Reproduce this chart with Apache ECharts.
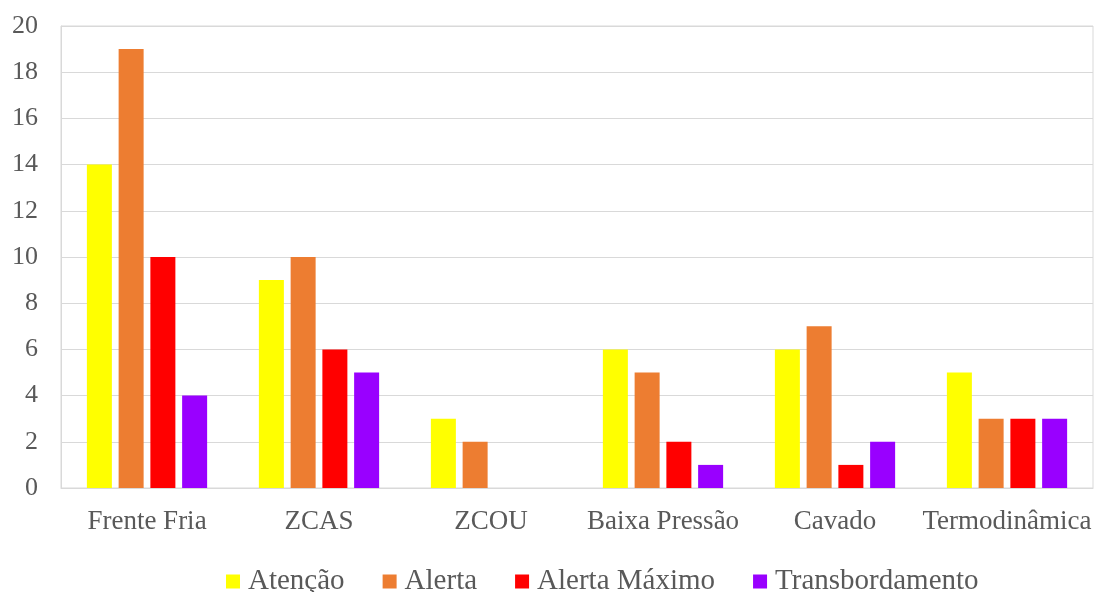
<!DOCTYPE html>
<html>
<head>
<meta charset="utf-8">
<script src="https://cdn.jsdelivr.net/npm/echarts@6/dist/echarts.min.js"></script>
<style>
  html, body { margin: 0; padding: 0; background: #fff; }
  #chart { width: 1095px; height: 592px; }
</style>
</head>
<body>
<div id="chart"></div>
<script>
  var categories = ['Frente Fria', 'ZCAS', 'ZCOU', 'Baixa Pressão', 'Cavado', 'Termodinâmica'];
  var atencao = [14, 9, 3, 6, 6, 5];
  var alerta = [19, 10, 2, 5, 7, 3];
  var alertaMaximo = [10, 6, 0, 2, 1, 3];
  var transbordamento = [4, 5, 0, 1, 2, 3];
  var seriesNames = ['Atenção', 'Alerta', 'Alerta Máximo', 'Transbordamento'];
  var colors = ['#FFFF00', '#ED7D31', '#FF0000', '#9900FF'];

  var font = '"Liberation Serif", "Times New Roman", serif';
  var chart = echarts.init(document.getElementById('chart'));

  var dataSets = [atencao, alerta, alertaMaximo, transbordamento];
  var series = dataSets.map(function (d, i) {
    return {
      name: seriesNames[i],
      type: 'bar',
      data: d,
      barWidth: 25,
      barGap: '27%',
      itemStyle: { color: colors[i] }
    };
  });

  var option = {
    animation: false,
    color: colors,
    textStyle: { fontFamily: font },
    grid: {
      left: 61,
      right: 2,
      top: 26,
      bottom: 104,
      show: true,
      borderColor: '#D9D9D9',
      borderWidth: 1
    },
    legend: {
      data: seriesNames,
      top: 562,
      left: 221,
      itemWidth: 14,
      itemHeight: 14,
      itemGap: 38,
      icon: 'rect',
      textStyle: { fontFamily: font, fontSize: 29, color: '#595959', padding: [0, 0, 0, 3] }
    },
    xAxis: {
      type: 'category',
      data: categories,
      axisLine: { lineStyle: { color: '#D9D9D9' } },
      axisTick: { show: false },
      axisLabel: { fontFamily: font, fontSize: 27, color: '#595959', margin: 20, interval: 0 }
    },
    yAxis: {
      type: 'value',
      min: 0,
      max: 20,
      interval: 2,
      axisLine: { show: true, lineStyle: { color: '#D9D9D9' } },
      splitLine: { lineStyle: { color: '#D9D9D9' } },
      axisLabel: { fontFamily: font, fontSize: 26, color: '#595959', margin: 23 }
    },
    series: series
  };
  chart.setOption(option);
</script>
</body>
</html>
